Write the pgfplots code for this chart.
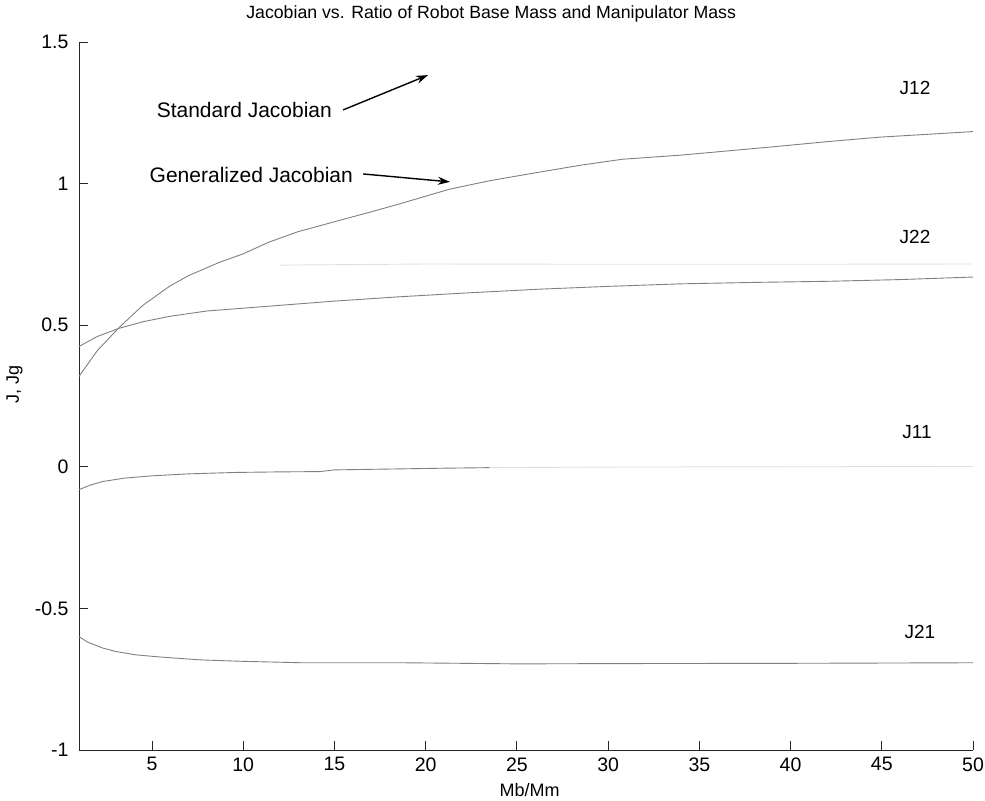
\documentclass[border=0pt]{standalone}
\usepackage{fontspec}
\setmainfont{Liberation Sans}
\usepackage{pgfplots}
\pgfplotsset{compat=1.18}
\usetikzlibrary{arrows.meta}
\definecolor{curve}{gray}{0.5}
\definecolor{faint}{gray}{0.88}
\begin{document}
\begin{tikzpicture}
\begin{axis}[
  scale only axis, width=894bp, height=708bp,
  xmin=1, xmax=50, ymin=-1, ymax=1.5,
  axis x line*=bottom, axis y line*=left,
  axis line style={-, black!85, line width=0.9bp},
  xtick={5,10,...,50}, ytick={-1,-0.5,0,0.5,1,1.5},
  yticklabels={-1,-0.5,0,0.5,1,1.5},
  tick align=inside, major tick length=9bp,
  tick style={black!85, line width=0.9bp},
  /pgf/number format/assume math mode=true,
  ticklabel style={font=\fontsize{19.5bp}{21bp}\selectfont},
  yticklabel style={xshift=-7bp},
  xticklabel style={yshift=-4bp},
  title={Jacobian vs. Ratio of Robot Base Mass and Manipulator Mass},
  title style={font=\fontsize{17.7bp}{19bp}\selectfont, at={(axis description cs:0.461,1.031)}, anchor=center},
  xlabel={Mb/Mm},
  xlabel style={font=\fontsize{18bp}{19bp}\selectfont, at={(axis description cs:0.504,-0.0565)}, anchor=center},
  ylabel={J, Jg},
  ylabel style={font=\fontsize{18bp}{19bp}\selectfont, at={(axis description cs:-0.072,0.516)}, anchor=center},
  clip=false,
]
% J12
\addplot[curve, line width=0.9bp] coordinates {
(1,0.319) (2,0.41) (3.2,0.492) (4.5,0.57) (5.95,0.637) (7,0.675) (8.7,0.722) (10,0.752)
(11.4,0.793) (13,0.83) (15.1,0.867) (17,0.90) (18.5,0.927) (21.3,0.980) (23.5,1.01)
(26.2,1.040) (28.5,1.065) (30.8,1.086) (33.9,1.100) (36.5,1.115) (39.4,1.132) (42,1.148)
(44.9,1.164) (47,1.172) (49.6,1.182) (50,1.184)};
% faint line near J22
\addplot[faint, line width=0.9bp] coordinates {
(12,0.712) (20,0.716) (30,0.715) (40,0.715) (50,0.716)};
% J22
\addplot[curve, line width=0.9bp] coordinates {
(1,0.425) (2,0.46) (3.2,0.489) (4.5,0.512) (5.95,0.531) (8,0.55) (11.4,0.567) (15,0.585)
(18.5,0.60) (22,0.613) (26.2,0.627) (30,0.637) (34,0.646) (38,0.651) (42.1,0.655)
(46,0.661) (50,0.670)};
% J11
\addplot[curve, line width=0.9bp] coordinates {
(1,-0.081) (1.6,-0.065) (2.3,-0.052) (3.5,-0.040) (5,-0.032) (7,-0.025) (9.6,-0.020)
(12,-0.018) (14.2,-0.017) (15,-0.011) (18,-0.008) (21,-0.005) (23.5,-0.003)};
\addplot[faint, line width=0.9bp] coordinates {
(23.5,-0.003) (30,-0.001) (40,0.0) (50,0.001)};
% J21
\addplot[curve, line width=0.9bp] coordinates {
(1,-0.60) (1.5,-0.62) (2.3,-0.64) (3,-0.652) (4.1,-0.664) (5.5,-0.672) (7.7,-0.682)
(10,-0.687) (13.2,-0.692) (18.7,-0.692) (22,-0.694) (25.1,-0.696) (30,-0.695)
(40,-0.694) (50,-0.692)};
% annotations
\node[anchor=east, inner sep=0pt, font=\fontsize{21bp}{23bp}\selectfont] at (axis cs:14.87,1.260) {Standard Jacobian};
\draw[-{Stealth[length=12bp,width=8bp]}, line width=1.4bp] (axis cs:15.47,1.260) -- (axis cs:20.13,1.383);
\node[anchor=east, inner sep=0pt, font=\fontsize{21bp}{23bp}\selectfont] at (axis cs:16.02,1.030) {Generalized Jacobian};
\draw[-{Stealth[length=12bp,width=8bp]}, line width=1.4bp] (axis cs:16.57,1.034) -- (axis cs:21.33,1.006);
\node[font=\fontsize{19bp}{20bp}\selectfont] at (axis cs:46.82,1.338) {J12};
\node[font=\fontsize{19bp}{20bp}\selectfont] at (axis cs:46.82,0.811) {J22};
\node[font=\fontsize{19bp}{20bp}\selectfont] at (axis cs:46.93,0.123) {J11};
\node[font=\fontsize{19bp}{20bp}\selectfont] at (axis cs:47.09,-0.583) {J21};
\coordinate (BL) at (rel axis cs:-0.0884,-0.072);
\coordinate (TR) at (rel axis cs:1.0134,1.0593);
\end{axis}
\pgfresetboundingbox
\path[use as bounding box] (BL) rectangle (TR);
\end{tikzpicture}
\end{document}
